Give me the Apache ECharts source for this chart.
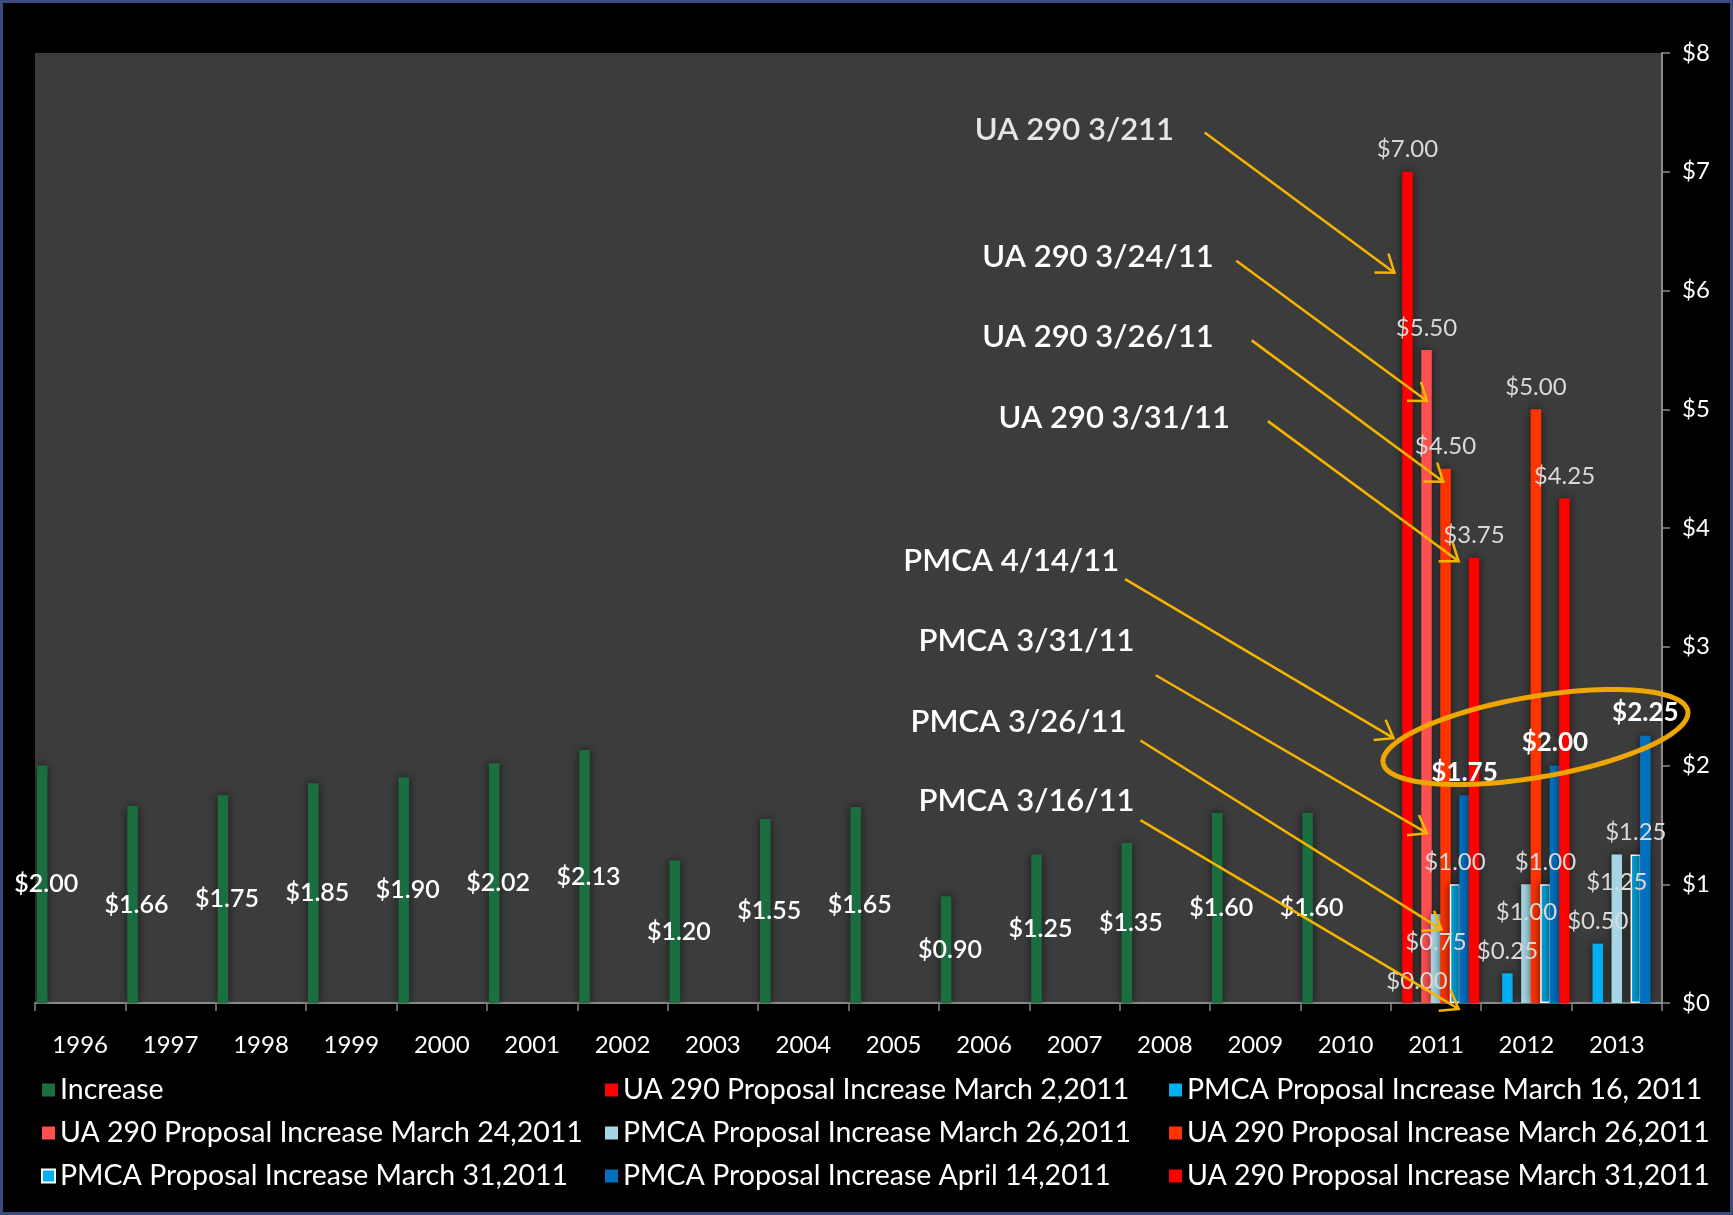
<!DOCTYPE html>
<html>
<head>
<meta charset="utf-8">
<script src="https://cdn.jsdelivr.net/npm/echarts@6/dist/echarts.min.js"></script>
<style>
  html, body { margin: 0; padding: 0; background: #000; }
  #chart { position: absolute; left: 0; top: 0; width: 1733px; height: 1215px; }
  #frame { position: absolute; left: 0; top: 0; width: 1733px; height: 1215px;
           box-sizing: border-box; border: 3px solid #3d4a7c; pointer-events: none; }
</style>
</head>
<body>
<div id="chart"></div>
<div id="frame"></div>
<script>
// Yearly parking-fee increases and the 2011 proposals
const years = ['1996','1997','1998','1999','2000','2001','2002','2003','2004',
               '2005','2006','2007','2008','2009','2010','2011','2012','2013'];
const N = null;
const increase  = [2.00,1.66,1.75,1.85,1.90,2.02,2.13,1.20,1.55,1.65,0.90,1.25,1.35,1.60,1.60,N,N,N];
const uaMar2    = [N,N,N,N,N,N,N,N,N,N,N,N,N,N,N,7.00,N,N];
const pmcaMar16 = [N,N,N,N,N,N,N,N,N,N,N,N,N,N,N,0.00,0.25,0.50];
const uaMar24   = [N,N,N,N,N,N,N,N,N,N,N,N,N,N,N,5.50,N,N];
const pmcaMar26 = [N,N,N,N,N,N,N,N,N,N,N,N,N,N,N,0.75,1.00,1.25];
const uaMar26   = [N,N,N,N,N,N,N,N,N,N,N,N,N,N,N,4.50,5.00,N];
const pmcaMar31 = [N,N,N,N,N,N,N,N,N,N,N,N,N,N,N,1.00,1.00,1.25];
const pmcaApr14 = [N,N,N,N,N,N,N,N,N,N,N,N,N,N,N,1.75,2.00,2.25];
const uaMar31   = [N,N,N,N,N,N,N,N,N,N,N,N,N,N,N,3.75,4.25,N];

const yTicks = [0,1,2,3,4,5,6,7,8];

// Callouts: text centre, arrow tail and arrow tip in (category, dollars)
const notes = [
  { text: 'UA 290 3/211',   at: [11.50, 7.35], from: [12.94, 7.33], to: [15.04, 6.15] },
  { text: 'UA 290 3/24/11', at: [11.76, 6.28], from: [13.29, 6.25], to: [15.40, 5.07] },
  { text: 'UA 290 3/26/11', at: [11.76, 5.61], from: [13.46, 5.58], to: [15.58, 4.39] },
  { text: 'UA 290 3/31/11', at: [11.94, 4.93], from: [13.64, 4.90], to: [15.75, 3.72] },
  { text: 'PMCA 4/14/11',   at: [10.80, 3.72], from: [12.06, 3.57], to: [15.03, 2.23] },
  { text: 'PMCA 3/31/11',   at: [10.97, 3.05], from: [12.40, 2.76], to: [15.40, 1.43] },
  { text: 'PMCA 3/26/11',   at: [10.88, 2.37], from: [12.23, 2.21], to: [15.56, 0.62] },
  { text: 'PMCA 3/16/11',   at: [10.97, 1.70], from: [12.23, 1.54], to: [15.75, -0.05] }
];
// Ring around the April 14 PMCA values
const ring = { center: [16.60, 2.24], rx: 1.71, ry: 0.34, tilt: 9.7 };

const FONT = 'Lato, "Open Sans", sans-serif';
const money = p => '$' + Number(p.value).toFixed(2);

const lblGreen = { show: true, position: 'inside', offset: [4, 0], color: '#ffffff',
                   fontSize: 25, fontWeight: 600, fontFamily: FONT, formatter: money };
const lblTop   = { show: true, position: 'top', distance: 10, color: '#d9d9d9',
                   fontSize: 24, fontFamily: FONT, formatter: money };
const lblIn    = { show: true, position: 'insideTop', distance: 16, color: '#d9d9d9',
                   fontSize: 24, fontFamily: FONT, formatter: money };
const lblBold  = { show: true, position: 'top', distance: 10, color: '#ffffff',
                   fontSize: 26, fontWeight: 'bold', fontFamily: FONT, formatter: money };

function bar(name, data, color, label, extraStyle) {
  return {
    name, type: 'bar', data,
    barWidth: 10.5, barGap: '-9.5%',
    itemStyle: Object.assign({ color, shadowBlur: 10, shadowColor: 'rgba(0,0,0,0.6)' }, extraStyle || {}),
    label,
    emphasis: { disabled: true }
  };
}

const chart = echarts.init(document.getElementById('chart'), null, { renderer: 'canvas' });

const legendBase = {
  orient: 'vertical', top: 1075, padding: 0, itemWidth: 13, itemHeight: 13, itemGap: 13,
  icon: 'rect', selectedMode: false,
  textStyle: { color: '#ffffff', fontSize: 28.5, fontFamily: FONT, lineHeight: 30 }
};

chart.setOption({
  backgroundColor: '#000000',
  animation: false,
  textStyle: { fontFamily: FONT },
  grid: { left: 35, right: 71, top: 53, bottom: 212, show: true,
          backgroundColor: '#3c3c3c', borderWidth: 0 },
  legend: [
    Object.assign({}, legendBase, { left: 41,
      data: ['Increase', 'UA 290 Proposal Increase March 24,2011', 'PMCA Proposal Increase March 31,2011'] }),
    Object.assign({}, legendBase, { left: 605,
      data: ['UA 290 Proposal Increase March 2,2011', 'PMCA Proposal Increase March 26,2011', 'PMCA Proposal Increase April 14,2011'] }),
    Object.assign({}, legendBase, { left: 1169,
      data: ['PMCA Proposal Increase March 16, 2011', 'UA 290 Proposal Increase March 26,2011', 'UA 290 Proposal Increase March 31,2011'] })
  ],
  xAxis: [
    {
      type: 'category', data: years, boundaryGap: true,
      axisLine: { lineStyle: { color: '#8c8c8c', width: 2 } },
      axisTick: { show: true, length: 8, lineStyle: { color: '#8c8c8c', width: 1.5 } },
      axisLabel: { color: '#ffffff', fontSize: 24, fontFamily: FONT, margin: 30 },
      splitLine: { show: false }
    },
    { type: 'value', min: 0, max: 18, show: false }
  ],
  yAxis: {
    type: 'value', position: 'right', min: 0, max: 8, interval: 1,
    axisLine: { show: true, onZero: false, lineStyle: { color: '#8c8c8c', width: 2 } },
    axisTick: { show: true, length: 8, lineStyle: { color: '#8c8c8c', width: 1.5 } },
    axisLabel: { color: '#ffffff', fontSize: 24, fontFamily: FONT, margin: 20,
                 formatter: v => yTicks.indexOf(v) >= 0 ? '$' + v : '' },
    splitLine: { show: false }
  },
  series: [
    bar('Increase', increase, '#1b6e3f', lblGreen),
    bar('UA 290 Proposal Increase March 2,2011', uaMar2, '#ff0000', lblTop),
    bar('PMCA Proposal Increase March 16, 2011', pmcaMar16, '#00b0f0', lblTop),
    bar('UA 290 Proposal Increase March 24,2011', uaMar24, '#ff5050', lblTop),
    bar('PMCA Proposal Increase March 26,2011', pmcaMar26, '#a6d6e3', lblIn),
    bar('UA 290 Proposal Increase March 26,2011', uaMar26, '#ff3300', lblTop),
    bar('PMCA Proposal Increase March 31,2011', pmcaMar31, '#00b0f0', lblTop,
        { borderColor: '#ffffff', borderWidth: 1.5 }),
    bar('PMCA Proposal Increase April 14,2011', pmcaApr14, '#0070c0', lblBold),
    bar('UA 290 Proposal Increase March 31,2011', uaMar31, '#ff0000', lblTop)
  ]
});

// Callout graphics placed through the axes
function px(pt) {
  return [chart.convertToPixel({ xAxisIndex: 1 }, pt[0]),
          chart.convertToPixel({ yAxisIndex: 0 }, pt[1])];
}
const ARROW = '#f5b400';
const gfx = [];
notes.forEach((n, i) => {
  const c = px(n.at), a = px(n.from), b = px(n.to);
  gfx.push({
    type: 'text', x: c[0], y: c[1], z: 100,
    style: { text: n.text, fill: i === 0 ? '#e6e6e6' : '#ffffff', fontSize: 31, fontWeight: 600,
             fontFamily: FONT, align: 'center', verticalAlign: 'middle' }
  });
  gfx.push({
    type: 'line', z: 100,
    shape: { x1: a[0], y1: a[1], x2: b[0], y2: b[1] },
    style: { stroke: ARROW, lineWidth: 2.5 }
  });
  const ang = Math.atan2(b[1] - a[1], b[0] - a[0]);
  const L = 20, spread = 36 * Math.PI / 180;
  gfx.push({
    type: 'polyline', z: 100,
    shape: { points: [
      [b[0] - L * Math.cos(ang - spread), b[1] - L * Math.sin(ang - spread)],
      [b[0], b[1]],
      [b[0] - L * Math.cos(ang + spread), b[1] - L * Math.sin(ang + spread)]
    ] },
    style: { stroke: ARROW, lineWidth: 2.5, fill: null }
  });
});
(function () {
  const c = px(ring.center);
  const unitX = px([1, 0])[0] - px([0, 0])[0];
  const unitY = px([0, 0])[1] - px([0, 1])[1];
  const a = ring.rx * unitX, b = ring.ry * unitY, phi = ring.tilt * Math.PI / 180;
  const pts = [];
  for (let k = 0; k < 120; k++) {
    const t = k / 120 * Math.PI * 2;
    pts.push([c[0] + a * Math.cos(t) * Math.cos(phi) - b * Math.sin(t) * Math.sin(phi),
              c[1] - (a * Math.cos(t) * Math.sin(phi) + b * Math.sin(t) * Math.cos(phi))]);
  }
  gfx.push({ type: 'polygon', z: 100, shape: { points: pts },
             style: { stroke: '#eea600', lineWidth: 5, fill: null } });
})();
chart.setOption({ graphic: gfx });
</script>
</body>
</html>
